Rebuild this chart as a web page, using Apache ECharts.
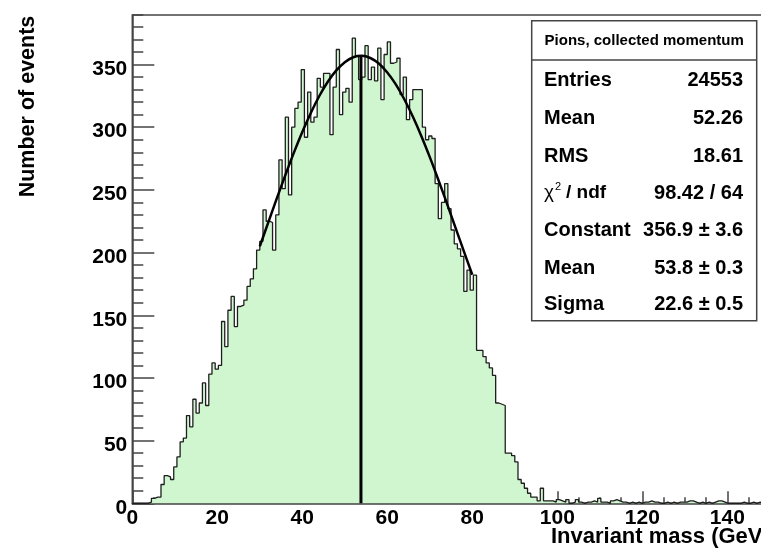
<!DOCTYPE html>
<html><head><meta charset="utf-8">
<script src="https://cdn.jsdelivr.net/npm/echarts@6/dist/echarts.min.js"></script>
<style>html,body{margin:0;padding:0;background:#fff}#c{width:761px;height:553px}</style>
</head><body><div id="c"></div><script>
// Histogram: 200 bins of 0.75 GeV over 0..150
const binWidth = 0.75;
const counts = [
  0,0,0,0,0,1,4,5,5,15,
  22,21,19,29,37,49,52,70,61,83,
  72,80,96,78,103,112,107,110,145,125,
  154,165,141,157,158,162,173,179,187,202,
  209,234,225,224,202,230,274,251,308,246,
  300,315,320,346,292,328,304,308,339,332,
  343,343,294,332,362,310,328,331,320,371,
  357,338,340,365,338,348,337,363,322,358,
  368,351,352,355,326,340,306,322,330,330,
  330,300,290,293,291,255,227,240,255,235,
  218,207,203,197,169,186,170,182,122,122,
  117,112,108,102,80,79,78,40,40,38,
  33,19,16,12,8,5,5,2,12,2,
  2,2,1,3,2,1,3,0,1,3,
  1,0,1,1,2,1,4,1,1,0,
  2,3,2,1,1,0,1,0,1,0,
  1,1,2,1,1,0,0,1,0,1,
  0,1,1,1,2,2,1,0,1,0,
  1,0,1,2,2,1,0,0,0,0,
  0,1,0,0,1,0,1,0,0,0
];
// Gaussian fit curve (fit range 30..80)
const fitX = [30,32,34,36,38,40,42,44,46,48,50,52,54,56,58,60,62,64,66,68,70,72,74,76,78,80];
const fitY = [205.0,224.1,243.2,261.7,279.5,296.2,311.4,324.9,336.3,345.3,351.9,355.8,356.9,355.2,350.8,343.7,334.2,322.3,308.5,293.0,276.1,258.1,239.4,220.3,201.2,182.3];
const fitMean = 53.8;
const fitConstant = 356.9;
const xRange = [0, 150];
const yRange = [0, 389.5];
const statsTitle = 'Pions, collected momentum';
const statLabels = ['Entries', 'Mean', 'RMS', 'CHI', 'Constant', 'Mean', 'Sigma'];
const statValues = ['24553', '52.26', '18.61', '98.42 / 64', '356.9 \u00b1 3.6', '53.8 \u00b1 0.3', '22.6 \u00b1 0.5'];
const xTitle = 'Invariant mass (GeV)';
const yTitle = 'Number of events';

const histData = counts.map((c, i) => [i * binWidth, c]);
histData.push([counts.length * binWidth, counts[counts.length - 1]]);
const fitData = fitX.map((x, i) => [x, fitY[i]]);
const meanData = [[fitMean, 0], [fitMean, fitConstant]];

const FONT = 'Liberation Sans, Arial, Helvetica, sans-serif';
const axisCol = '#444';
const lblStyle = { fontSize: 21, fontWeight: 'bold', fontFamily: FONT, color: '#000' };

const chart = echarts.init(document.getElementById('c'), null, { renderer: 'canvas' });

const graphics = [];
const bx = 531.7, by = 20.7, bw = 225, bh = 300;
graphics.push({ type: 'rect', z: 100, shape: { x: bx, y: by, width: bw, height: bh }, style: { fill: '#fff', stroke: axisCol, lineWidth: 1.5 } });
graphics.push({ type: 'line', z: 101, shape: { x1: bx, y1: 60, x2: bx + bw, y2: 60 }, style: { stroke: axisCol, lineWidth: 1.5 } });
graphics.push({ type: 'text', z: 101, x: bx + bw / 2, y: 40.5, style: { text: statsTitle, font: 'bold 15px ' + FONT, fill: '#000', align: 'center', verticalAlign: 'middle' } });
const rowY = [80, 118, 156, 193, 230.5, 268, 304];
statLabels.forEach((l, i) => {
  if (l === 'CHI') {
    graphics.push({ type: 'text', z: 101, x: 544, y: rowY[i], style: { text: '\u03c7', font: '19px ' + FONT, fill: '#000', verticalAlign: 'middle' } });
    graphics.push({ type: 'text', z: 101, x: 555, y: rowY[i] - 6, style: { text: '2', font: '11px ' + FONT, fill: '#000', verticalAlign: 'middle' } });
    graphics.push({ type: 'text', z: 101, x: 566, y: rowY[i], style: { text: '/ ndf', font: 'bold 19px ' + FONT, fill: '#000', verticalAlign: 'middle' } });
  } else {
    graphics.push({ type: 'text', z: 101, x: 544, y: rowY[i], style: { text: l, font: 'bold 20px ' + FONT, fill: '#000', verticalAlign: 'middle' } });
  }
  graphics.push({ type: 'text', z: 101, x: 743, y: rowY[i], style: { text: statValues[i], font: 'bold 20px ' + FONT, fill: '#000', align: 'right', verticalAlign: 'middle' } });
});
graphics.push({ type: 'text', z: 101, x: 28.5, y: 106.5, rotation: Math.PI / 2, style: { text: yTitle, font: 'bold 21.5px ' + FONT, fill: '#000', align: 'center', verticalAlign: 'middle' } });
graphics.push({ type: 'text', z: 101, x: 769.8, y: 537, style: { text: xTitle, font: 'bold 22px ' + FONT, fill: '#000', align: 'right', verticalAlign: 'middle' } });

chart.setOption({
  animation: false,
  backgroundColor: '#fff',
  grid: { left: 132.3, top: 15, right: -8.8, bottom: 49.7, containLabel: false, outerBoundsMode: 'none',
          show: true, borderColor: axisCol, borderWidth: 1.5, backgroundColor: 'transparent' },
  xAxis: [
    { type: 'value', position: 'bottom', min: xRange[0], max: xRange[1], interval: 20,
      axisLine: { show: true, onZero: false, lineStyle: { color: axisCol, width: 1.5 } },
      axisTick: { show: true, inside: true, length: 12, lineStyle: { color: axisCol, width: 1.5 } },
      axisLabel: Object.assign({ margin: 4, showMaxLabel: false }, lblStyle),
      splitLine: { show: false } },
    { type: 'value', position: 'bottom', min: xRange[0], max: xRange[1], interval: 5,
      axisLine: { show: false, onZero: false },
      axisTick: { show: true, inside: true, length: 6, lineStyle: { color: axisCol, width: 1.5 } },
      axisLabel: { show: false }, splitLine: { show: false } }
  ],
  yAxis: [
    { type: 'value', position: 'left', min: yRange[0], max: yRange[1], interval: 50,
      axisLine: { show: true, onZero: false, lineStyle: { color: axisCol, width: 1.5 } },
      axisTick: { show: true, inside: true, length: 22, lineStyle: { color: axisCol, width: 1.5 } },
      axisLabel: Object.assign({ margin: 5, showMaxLabel: false, verticalAlign: 'top', lineHeight: 9 }, lblStyle),
      splitLine: { show: false } },
    { type: 'value', position: 'left', min: yRange[0], max: yRange[1], interval: 10,
      axisLine: { show: false, onZero: false },
      axisTick: { show: true, inside: true, length: 11, lineStyle: { color: axisCol, width: 1.5 } },
      axisLabel: { show: false }, splitLine: { show: false } }
  ],
  series: [
    { type: 'line', name: 'hist', xAxisIndex: 0, yAxisIndex: 0, data: histData, step: 'end',
      symbol: 'none', sampling: null, lineStyle: { color: '#1e1e1e', width: 1.3 },
      areaStyle: { color: '#d0f6d0', opacity: 1 }, z: 2, silent: true },
    { type: 'line', name: 'fit', xAxisIndex: 0, yAxisIndex: 0, data: fitData, smooth: 0.3,
      symbol: 'none', lineStyle: { color: '#000', width: 2.5 }, z: 4, silent: true },
    { type: 'line', name: 'mean', xAxisIndex: 0, yAxisIndex: 0, data: meanData,
      symbol: 'none', lineStyle: { color: '#000', width: 3 }, z: 3, silent: true }
  ],
  graphic: graphics
});
</script></body></html>
